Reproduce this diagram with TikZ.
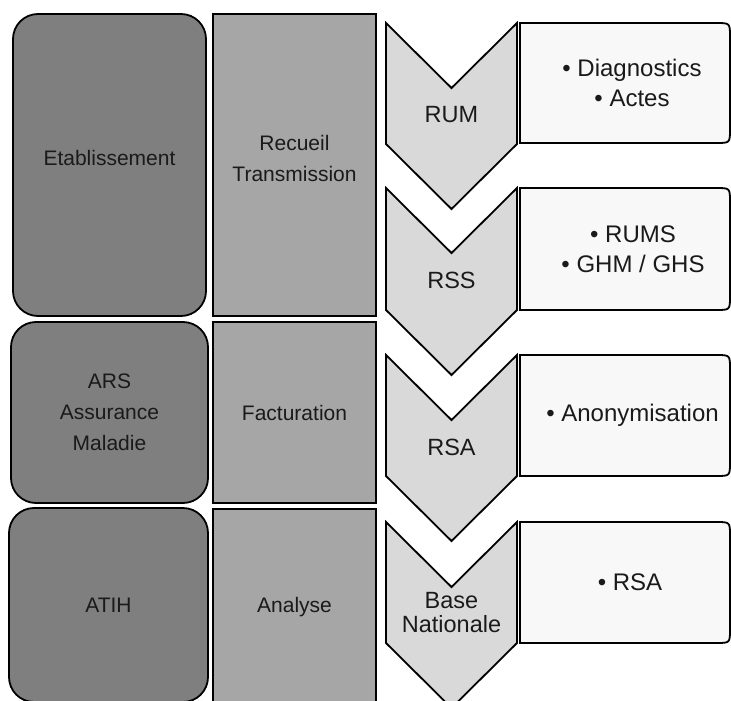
\documentclass[tikz,border=0pt]{standalone}
\usepackage{fontspec}
\setmainfont{Liberation Sans}
\begin{document}
\begin{tikzpicture}[x=1pt,y=-1pt,
acteur/.style={draw,line width=1.8pt,fill=grisfonce,rounded corners=25pt,align=center,text=encre,font=\fontsize{21}{31}\selectfont},
etape/.style={draw,line width=1.8pt,fill=grismoyen,align=center,text=encre,font=\fontsize{21}{31}\selectfont},
libelle/.style={align=center,text=encre,font=\fontsize{21}{31}\selectfont},
chevron/.style={draw,line width=1.8pt,fill=grisclair,line join=miter},
sigle/.style={align=center,text=encre,font=\fontsize{23.5}{24}\selectfont},
cadre/.style={draw,line width=1.8pt,fill=blanc},
liste/.style={align=center,text=encre,font=\fontsize{24}{30}\selectfont}]
\definecolor{grisfonce}{RGB}{127,127,127}
\definecolor{grismoyen}{RGB}{166,166,166}
\definecolor{grisclair}{RGB}{217,217,217}
\definecolor{blanc}{RGB}{248,248,248}
\definecolor{encre}{RGB}{26,26,26}
\clip (0,0) rectangle (731,701);
\node[acteur,minimum width=193pt,minimum height=302pt] (etab) at (109.5,165) {};
\node[libelle] (etabnom) at (109.5,158) {Etablissement};
\node[etape,minimum width=163pt,minimum height=302pt] (recueil) at (294.5,165) {};
\node[libelle] (recueilnom) at (294.5,158) {Recueil\\Transmission};
\node[acteur,minimum width=197pt,minimum height=181pt] (ars) at (109.5,412.5) {ARS\\Assurance\\Maladie};
\node[etape,minimum width=163pt,minimum height=181pt] (factu) at (294.5,412.5) {Facturation};
\node[acteur,minimum width=199pt,minimum height=194pt] (atih) at (108.5,605) {ATIH};
\node[etape,minimum width=163pt,minimum height=196pt] (analyse) at (294.5,607) {Analyse};
\draw[chevron] (386,23) -- (451.5,88) -- (517,23) -- (517,144) -- (451.5,209) -- (386,144) -- cycle;
\draw[chevron] (386,188) -- (451.5,253) -- (517,188) -- (517,310) -- (451.5,375) -- (386,310) -- cycle;
\draw[chevron] (386,355) -- (451.5,420) -- (517,355) -- (517,476) -- (451.5,541) -- (386,476) -- cycle;
\draw[chevron] (386,522) -- (451.5,587) -- (517,522) -- (517,643) -- (451.5,708) -- (386,643) -- cycle;
\node[sigle] (rum) at (451.5,115) {RUM};
\node[sigle] (rss) at (451.5,280) {RSS};
\node[sigle] (rsa) at (451.5,447) {RSA};
\node[sigle] (base) at (451.5,613) {Base\\Nationale};
\draw[cadre] (520,23) -- (716,23) .. controls (730,23) .. (730,37) -- (730,129) .. controls (730,143) .. (716,143) -- (520,143) -- cycle;
\draw[cadre] (520,188) -- (716,188) .. controls (730,188) .. (730,202) -- (730,296) .. controls (730,310) .. (716,310) -- (520,310) -- cycle;
\draw[cadre] (520,355) -- (716,355) .. controls (730,355) .. (730,369) -- (730,462) .. controls (730,476) .. (716,476) -- (520,476) -- cycle;
\draw[cadre] (520,522) -- (716,522) .. controls (730,522) .. (730,536) -- (730,629) .. controls (730,643) .. (716,643) -- (520,643) -- cycle;
\node[liste] (rumdet) at (632,83) {\textbullet\ Diagnostics\\\textbullet\ Actes};
\node[liste] (rssdet) at (633,249) {\textbullet\ RUMS\\\textbullet\ GHM / GHS};
\node[liste] (rsadet) at (632.5,415) {\textbullet\ Anonymisation};
\node[liste] (basedet) at (630,582) {\textbullet\ RSA};
\end{tikzpicture}
\end{document}
